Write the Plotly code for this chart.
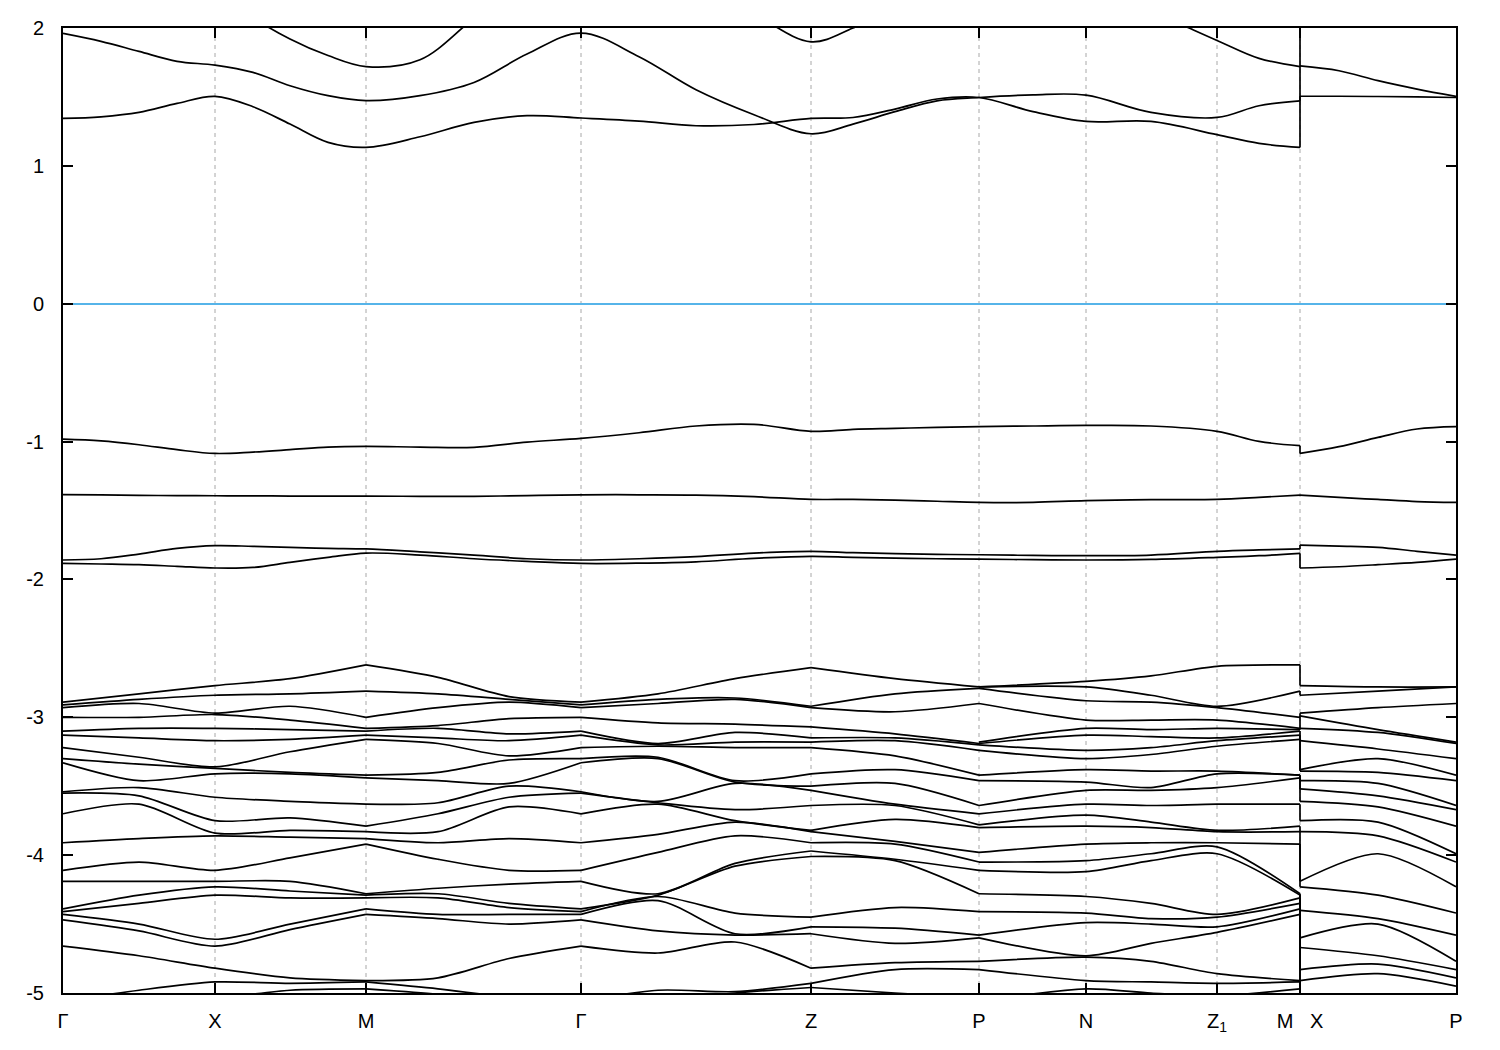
import plotly.graph_objects as go

# ---------------- k-path (path distance) and labels ----------------
tick_k = [0, 152, 303, 518, 748, 916, 1023, 1154, 1237, 1393]
tick_names = ["Γ", "X", "M", "Γ", "Z", "P", "N", "Z<sub>1</sub>", "M\u00a0\u00a0\u00a0X", "P"]
grid_k = [152, 303, 518, 748, 916, 1023, 1154, 1237]

y_ticks = [-5, -4, -3, -2, -1, 0, 1, 2]
y_tick_text = ["-5", "-4", "-3", "-2", "-1", "0", "1", "2"]

# fine grid for the isolated bands (Γ-X-M-Γ-Z-P-N-Z1-M) and (X-P)
k_path = [0, 38, 76, 114, 152, 190, 227, 265, 303, 357, 411, 464, 518, 576, 633, 691,
          748, 790, 832, 874, 916, 970, 1023, 1088, 1154, 1196, 1237]
k_xp = [1237, 1276, 1315, 1354, 1393]

# conduction bands
c1_path = [1.344, 1.356, 1.388, 1.453, 1.504, 1.429, 1.303, 1.170, 1.134, 1.211, 1.315, 1.364, 1.347,
           1.325, 1.291, 1.300, 1.344, 1.351, 1.412, 1.485, 1.496, 1.393, 1.322, 1.322, 1.226, 1.163, 1.134]
c1_xp = [1.505, 1.505, 1.503, 1.500, 1.496]
c2_path = [1.961, 1.903, 1.830, 1.758, 1.731, 1.678, 1.581, 1.509, 1.473, 1.509, 1.605, 1.811, 1.963,
           1.792, 1.552, 1.371, 1.233, 1.303, 1.393, 1.472, 1.496, 1.515, 1.513, 1.388, 1.351, 1.436, 1.472]
c2_xp = [1.725, 1.690, 1.618, 1.557, 1.504]
c3_path = [2.60, 2.55, 2.50, 2.42, 2.35, 2.08, 1.92, 1.80, 1.72, 1.77, 2.07, 2.35, 2.50,
           2.40, 2.30, 2.10, 1.90, 2.00, 2.15, 2.30, 2.40, 2.40, 2.30, 2.12, 1.91, 1.78, 1.72]
c3_xp = [2.40, 2.40, 2.35, 2.30, 2.30]

# isolated valence bands
v1_path = [-0.982, -0.995, -1.023, -1.059, -1.086, -1.076, -1.059, -1.040, -1.035, -1.040, -1.042, -1.004, -0.977,
           -0.936, -0.887, -0.875, -0.926, -0.911, -0.904, -0.897, -0.892, -0.887, -0.883, -0.887, -0.926, -0.999, -1.030]
v1_xp = [-1.086, -1.037, -0.970, -0.909, -0.892]
v2_path = [-1.385, -1.387, -1.390, -1.392, -1.393, -1.394, -1.395, -1.396, -1.396, -1.397, -1.397, -1.392, -1.386,
           -1.386, -1.388, -1.400, -1.419, -1.420, -1.425, -1.433, -1.441, -1.441, -1.428, -1.421, -1.419, -1.405, -1.388]
v2_xp = [-1.388, -1.405, -1.420, -1.435, -1.441]
v3_path = [-1.859, -1.850, -1.816, -1.775, -1.755, -1.760, -1.767, -1.775, -1.779, -1.800, -1.823, -1.850, -1.859,
           -1.850, -1.835, -1.809, -1.796, -1.806, -1.813, -1.818, -1.821, -1.826, -1.828, -1.823, -1.796, -1.786, -1.779]
v3_xp = [-1.751, -1.758, -1.767, -1.796, -1.823]
v4_path = [-1.884, -1.888, -1.893, -1.905, -1.917, -1.913, -1.876, -1.840, -1.809, -1.823, -1.850, -1.869, -1.884,
           -1.882, -1.872, -1.847, -1.833, -1.840, -1.845, -1.850, -1.852, -1.857, -1.859, -1.855, -1.840, -1.828, -1.811]
v4_xp = [-1.917, -1.908, -1.893, -1.876, -1.852]

# ---------------- dense valence manifold: energies (sorted) at sample k-points ----------------
col_G = [-2.89, -2.91, -2.93, -3.00, -3.10, -3.13, -3.22, -3.30, -3.33, -3.54, -3.55, -3.70, -3.91, -4.11, -4.19, -4.39, -4.41, -4.43, -4.47, -4.66, -5.06, -5.10, -5.15, -5.20]
col_GX = [-2.83, -2.87, -2.90, -3.00, -3.08, -3.15, -3.29, -3.34, -3.46, -3.51, -3.57, -3.63, -3.88, -4.05, -4.19, -4.29, -4.35, -4.50, -4.55, -4.73, -4.98, -5.08, -5.13, -5.18]
col_X = [-2.77, -2.84, -2.97, -2.98, -3.08, -3.17, -3.36, -3.37, -3.41, -3.58, -3.75, -3.84, -3.86, -4.11, -4.19, -4.23, -4.29, -4.61, -4.66, -4.82, -4.92, -5.04, -5.10, -5.15]
col_XM = [-2.72, -2.83, -2.92, -3.02, -3.09, -3.16, -3.25, -3.40, -3.41, -3.61, -3.73, -3.82, -3.87, -4.02, -4.19, -4.26, -4.31, -4.50, -4.54, -4.89, -4.93, -4.98, -5.08, -5.13]
col_M = [-2.62, -2.81, -3.00, -3.08, -3.10, -3.13, -3.16, -3.42, -3.44, -3.63, -3.79, -3.83, -3.88, -3.92, -4.28, -4.29, -4.31, -4.39, -4.43, -4.91, -4.92, -4.97, -5.06, -5.10]
col_MG1 = [-2.71, -2.83, -2.93, -3.06, -3.08, -3.15, -3.19, -3.40, -3.46, -3.62, -3.70, -3.83, -3.91, -4.03, -4.24, -4.28, -4.31, -4.43, -4.46, -4.89, -4.97, -5.01, -5.06, -5.10]
col_MG2 = [-2.85, -2.87, -2.89, -3.01, -3.12, -3.17, -3.28, -3.31, -3.48, -3.50, -3.58, -3.65, -3.88, -4.11, -4.21, -4.35, -4.38, -4.43, -4.50, -4.75, -5.03, -5.08, -5.13, -5.18]
col_GZ1 = [-2.83, -2.87, -2.90, -3.04, -3.19, -3.20, -3.21, -3.29, -3.30, -3.61, -3.62, -3.63, -3.85, -3.98, -4.28, -4.29, -4.30, -4.33, -4.55, -4.71, -4.98, -5.06, -5.10, -5.15]
col_GZ2 = [-2.72, -2.86, -2.87, -3.05, -3.11, -3.18, -3.22, -3.46, -3.47, -3.48, -3.67, -3.75, -3.76, -3.86, -4.06, -4.08, -4.42, -4.57, -4.58, -4.63, -4.99, -5.00, -5.08, -5.13]
col_Z = [-2.64, -2.92, -2.93, -3.07, -3.15, -3.18, -3.22, -3.41, -3.50, -3.53, -3.64, -3.82, -3.83, -3.91, -3.97, -4.01, -4.45, -4.52, -4.57, -4.82, -4.93, -4.96, -5.06, -5.10]
col_ZP = [-2.72, -2.83, -2.96, -3.12, -3.15, -3.17, -3.28, -3.38, -3.48, -3.63, -3.64, -3.74, -3.90, -3.92, -4.03, -4.04, -4.38, -4.53, -4.64, -4.78, -4.83, -5.00, -5.08, -5.13]
col_P = [-2.78, -2.79, -2.90, -3.19, -3.20, -3.24, -3.42, -3.46, -3.64, -3.70, -3.78, -3.80, -3.98, -4.05, -4.11, -4.28, -4.41, -4.58, -4.60, -4.77, -4.83, -5.04, -5.08, -5.13]
col_Pb = [-2.78, -2.78, -2.79, -2.90, -3.18, -3.19, -3.20, -3.24, -3.42, -3.46, -3.64, -3.70, -3.78, -3.80, -3.98, -4.05, -4.11, -4.28, -4.41, -4.58, -4.60, -4.77, -4.83, -5.06]
col_N = [-2.74, -2.78, -2.88, -3.02, -3.08, -3.13, -3.24, -3.30, -3.38, -3.47, -3.53, -3.63, -3.71, -3.79, -3.92, -4.04, -4.12, -4.30, -4.42, -4.49, -4.73, -4.74, -4.91, -4.97]
col_NZ1 = [-2.70, -2.84, -2.89, -3.02, -3.09, -3.14, -3.22, -3.27, -3.39, -3.51, -3.53, -3.64, -3.76, -3.80, -3.91, -3.99, -4.04, -4.35, -4.46, -4.50, -4.64, -4.77, -4.92, -5.00]
col_Z1 = [-2.63, -2.92, -2.93, -3.02, -3.08, -3.15, -3.17, -3.21, -3.39, -3.41, -3.51, -3.63, -3.82, -3.83, -3.91, -3.94, -3.99, -4.43, -4.45, -4.52, -4.56, -4.86, -4.93, -5.02]
col_M2 = [-2.62, -2.81, -3.00, -3.08, -3.09, -3.10, -3.13, -3.16, -3.42, -3.42, -3.44, -3.63, -3.79, -3.83, -3.92, -4.28, -4.29, -4.31, -4.35, -4.39, -4.43, -4.91, -4.92, -4.97]
col_X2 = [-2.77, -2.84, -2.97, -2.99, -3.08, -3.17, -3.38, -3.39, -3.46, -3.52, -3.61, -3.75, -3.83, -4.19, -4.23, -4.40, -4.60, -4.67, -4.83, -4.91, -5.04, -5.08, -5.13, -5.18]
col_XP = [-2.78, -2.81, -2.93, -3.09, -3.11, -3.23, -3.30, -3.40, -3.48, -3.57, -3.65, -3.76, -3.86, -3.99, -4.29, -4.46, -4.50, -4.73, -4.79, -4.86, -5.06, -5.10, -5.15, -5.20]
col_Pend = [-2.78, -2.78, -2.90, -3.18, -3.19, -3.30, -3.42, -3.46, -3.64, -3.67, -3.79, -3.99, -4.05, -4.23, -4.42, -4.58, -4.77, -4.83, -4.89, -4.95, -5.06, -5.10, -5.15, -5.20]

segments = [
    ([0, 76, 152, 227, 303], [col_G, col_GX, col_X, col_XM, col_M]),
    ([303, 375, 446, 518], [col_M, col_MG1, col_MG2, col_G]),
    ([518, 595, 672, 748], [col_G, col_GZ1, col_GZ2, col_Z]),
    ([748, 832, 916], [col_Z, col_ZP, col_P]),
    ([916, 1023, 1088, 1154, 1237], [col_Pb, col_N, col_NZ1, col_Z1, col_M2]),
    ([1237, 1315, 1393], [col_X2, col_XP, col_Pend]),
]

fig = go.Figure()

def add_line(x, y, shape="spline", smoothing=0.9):
    line = dict(color="black", width=1.7, shape=shape)
    if shape == "spline":
        line["smoothing"] = smoothing
    fig.add_trace(go.Scatter(x=x, y=y, mode="lines", line=line,
                             hoverinfo="skip", showlegend=False))

# isolated bands
path_bands = [(c1_path, c1_xp), (c2_path, c2_xp), (c3_path, c3_xp),
              (v1_path, v1_xp), (v2_path, v2_xp), (v3_path, v3_xp), (v4_path, v4_xp)]
jx, jy = [], []
for bp, bx in path_bands:
    add_line(k_path, bp, smoothing=1.0)
    add_line(k_xp, bx, smoothing=1.0)
    jx += [k_path[-1], k_xp[0], None]
    jy += [bp[-1], bx[0], None]

# dense manifold
for ks, cols in segments:
    for i in range(len(cols[0])):
        add_line(ks, [c[i] for c in cols], smoothing=0.8)
for a, b in zip(col_M2, col_X2):
    jx += [1237, 1237, None]
    jy += [a, b, None]
add_line(jx, jy, shape="linear")

# dashed vertical lines at high-symmetry points
for k in grid_k:
    fig.add_shape(type="line", x0=k, x1=k, y0=0, y1=1, xref="x", yref="paper",
                  line=dict(color="#a8a8a8", width=1, dash="4px,4px"), layer="below")

# the page body keeps its default 8px margin: size the figure to fit inside the window
fig.update_layout(
    width=1484, height=1034,
    margin=dict(l=55, r=36, t=20, b=49, autoexpand=False),
    plot_bgcolor="white", paper_bgcolor="white",
    font=dict(family="Liberation Sans, Arial, sans-serif", size=20, color="black"),
    showlegend=False,
)
fig.update_xaxes(range=[0, 1393], tickmode="array", tickvals=tick_k, ticktext=tick_names,
                 ticks="inside", ticklen=10, tickwidth=2, tickcolor="black",
                 showline=True, linecolor="black", linewidth=2, mirror="ticks",
                 showgrid=False, zeroline=False, ticklabelstandoff=9, automargin=False)
fig.update_yaxes(range=[-5, 2], tickmode="array", tickvals=y_ticks, ticktext=y_tick_text,
                 ticks="inside", ticklen=10, tickwidth=2, tickcolor="black",
                 showline=True, linecolor="black", linewidth=2, mirror="ticks",
                 showgrid=False, zeroline=True, zerolinecolor="#56b4e9", zerolinewidth=2,
                 ticklabelstandoff=13, automargin=False)

fig.write_html("out.html")
